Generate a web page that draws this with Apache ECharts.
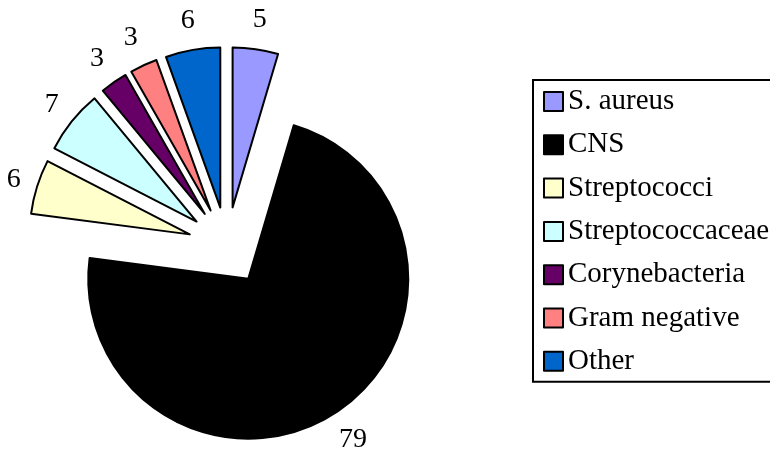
<!DOCTYPE html>
<html>
<head>
<meta charset="utf-8">
<script src="https://cdn.jsdelivr.net/npm/echarts@6/dist/echarts.min.js"></script>
<style>
html,body{margin:0;padding:0;background:#fff;}
#c{width:770px;height:457px;}
</style>
</head>
<body>
<div id="c"></div>
<script>
const categories = ['S. aureus', 'CNS', 'Streptococci', 'Streptococcaceae', 'Corynebacteria', 'Gram negative', 'Other'];
const values = [5, 79, 6, 7, 3, 3, 6];
const colors = ['#9999FF', '#000000', '#FFFFCC', '#CCFFFF', '#660066', '#FF8080', '#0066CC'];

const FONT = '"Liberation Serif", "Times New Roman", serif';
const LABEL_SIZE = 28;
const CX = 227, CY = 246, R = 160, OFFSET = 39, GAP = 17, BASE_LEN = 20;

// Directions of the slice bisectors, read back from the library's own label layout.
const dirs = {};
function labelLayout(p) {
  const r = p.labelRect;
  let ax;
  if (p.align === 'left') ax = r.x;
  else if (p.align === 'right') ax = r.x + r.width;
  else ax = r.x + r.width / 2;
  const ay = r.y + r.height / 2;
  const dx = ax - CX, dy = ay - CY;
  const len = Math.sqrt(dx * dx + dy * dy) || 1;
  if (!dirs[p.dataIndex]) dirs[p.dataIndex] = [dx / len, dy / len];
  return { align: 'center', verticalAlign: 'middle' };
}

// Label distance so the label's glyph box keeps a fixed gap from the exploded arc.
function lineLength(i) {
  const d = dirs[i];
  if (!d) return BASE_LEN;
  const txt = String(values[i]);
  const w = 0.5 * LABEL_SIZE * txt.length;
  const h = 0.9 * LABEL_SIZE;
  const ext = Math.min(Math.abs(d[0]) > 1e-6 ? (w / 2) / Math.abs(d[0]) : 1e9,
                       Math.abs(d[1]) > 1e-6 ? (h / 2) / Math.abs(d[1]) : 1e9);
  return GAP + ext;
}

function buildData() {
  return categories.map((n, i) => ({
    name: n,
    value: values[i],
    selected: true,
    itemStyle: { color: colors[i] },
    labelLine: { show: false, length: lineLength(i), length2: 0 }
  }));
}

const chart = echarts.init(document.getElementById('c'));
chart.setOption({
  animation: false,
  backgroundColor: '#fff',
  legend: {
    orient: 'vertical',
    left: 533,
    top: 80,
    padding: [7, 40, 6, 10],
    itemWidth: 19,
    itemHeight: 19,
    itemGap: 14.3,
    borderColor: '#000',
    borderWidth: 2,
    icon: 'rect',
    itemStyle: { borderColor: '#000', borderWidth: 2 },
    textStyle: { fontFamily: FONT, fontSize: 29, color: '#000' },
    data: categories
  },
  series: [{
    type: 'pie',
    center: [CX, CY],
    radius: R,
    startAngle: 90,
    clockwise: true,
    selectedMode: 'multiple',
    selectedOffset: OFFSET,
    avoidLabelOverlap: false,
    emphasis: { disabled: true },
    itemStyle: { borderColor: '#000', borderWidth: 2 },
    label: {
      show: true,
      position: 'outside',
      formatter: '{c}',
      fontFamily: FONT,
      fontSize: LABEL_SIZE,
      color: '#000',
      distanceToLabelLine: 0
    },
    labelLine: { show: false, length: BASE_LEN, length2: 0 },
    labelLayout: labelLayout,
    data: buildData()
  }]
});
// Second pass: per-slice label distances from the measured directions.
chart.setOption({ series: [{ data: buildData() }] });
</script>
</body>
</html>
